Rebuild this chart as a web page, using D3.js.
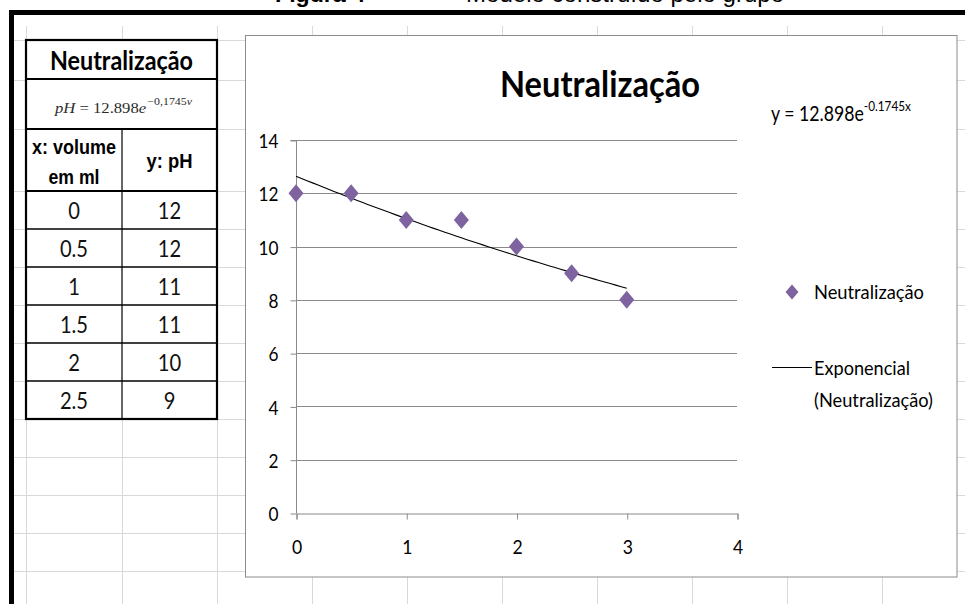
<!DOCTYPE html>
<html>
<head>
<meta charset="utf-8">
<script src="https://cdn.jsdelivr.net/npm/d3@7"></script>
<style>
  html, body { margin: 0; padding: 0; background: #fff; }
  svg { display: block; }
</style>
</head>
<body>
<svg id="sheet" width="965" height="604"></svg>
<script>
// ---- data -------------------------------------------------------------
const seriesName = "Neutralização";
const volume = [0, 0.5, 1, 1.5, 2, 2.5, 3];     // x: volume em ml
const ph     = [12, 12, 11, 11, 10, 9, 8];       // y: pH
const tableRows = 6;                              // rows visible in the sheet table
const xTicks = [0, 1, 2, 3, 4];
const yTicks = [0, 2, 4, 6, 8, 10, 12, 14];
const eqMain = "y = 12.898e";
const eqExp  = "-0.1745x";
const trendLabel = ["Exponencial", "(Neutralização)"];
const sheetColumns = [26, 122, 217, 312, 407, 502, 597, 692, 787, 882, 977];
const sheetRows = [40, 80, 129, 191, 229, 267, 305, 343, 381, 419, 457, 495, 533, 571, 609];

const svg = d3.select("#sheet");
const SANS = "Lato, 'Open Sans', sans-serif";
const ARIAL = "'Liberation Sans', Arial, sans-serif";
const SERIF = "'Liberation Serif', 'DejaVu Serif', serif";

// shrink a text element horizontally to a given width (Calibri-like narrow glyphs)
function fitWidth(sel, w) {
  sel.attr("textLength", w).attr("lengthAdjust", "spacingAndGlyphs");
}
function condense(sel, k) {
  sel.each(function () {
    const w = this.getComputedTextLength();
    d3.select(this).attr("textLength", w * k).attr("lengthAdjust", "spacingAndGlyphs");
  });
}

// ---- caption above the frame (mostly cut off) ---------------------------
const cap1 = svg.append("text").attr("x", 275).attr("y", 1.5)
  .attr("font-family", ARIAL).attr("font-weight", "bold").attr("font-size", 22)
  .text("Figura 4");
fitWidth(cap1, 90);
const cap2 = svg.append("text").attr("x", 446).attr("y", 1.5)
  .attr("font-family", ARIAL).attr("font-size", 24)
  .text("– Modelo construído pelo grupo");
fitWidth(cap2, 338);

// ---- spreadsheet grid --------------------------------------------------
const grid = svg.append("g").attr("stroke", "#d9d9d9").attr("stroke-width", 1);
grid.selectAll("line.v").data(sheetColumns).join("line")
  .attr("x1", d => d + 0.5).attr("x2", d => d + 0.5)
  .attr("y1", 26).attr("y2", 604);
grid.selectAll("line.h").data(sheetRows).join("line")
  .attr("x1", 14).attr("x2", 965)
  .attr("y1", d => d + 0.5).attr("y2", d => d + 0.5);

// thick black frame (top and left)
svg.append("rect").attr("x", 9).attr("y", 10).attr("width", 956).attr("height", 5).attr("fill", "#000");
svg.append("rect").attr("x", 9).attr("y", 10).attr("width", 5).attr("height", 594).attr("fill", "#000");

// ---- data table --------------------------------------------------------
const T = { x0: 26, x1: 122, x2: 217, yTop: 40, yTitle: 79, yFormula: 129, yHead: 191, rowH: 38 };
const table = svg.append("g");
const rows = volume.slice(0, tableRows).map((v, i) => ({ v, p: ph[i] }));
const tableBottom = T.yHead + rows.length * T.rowH;

table.append("rect").attr("x", T.x0).attr("y", T.yTop)
  .attr("width", T.x2 - T.x0).attr("height", tableBottom - T.yTop).attr("fill", "#fff");

const tl = table.append("g").attr("stroke", "#000");
// column divider below the formula row
tl.append("line").attr("x1", T.x1).attr("x2", T.x1).attr("y1", T.yFormula).attr("y2", tableBottom).attr("stroke-width", 1.2);
// header separators
[T.yTitle, T.yFormula, T.yHead].forEach(y =>
  tl.append("line").attr("x1", T.x0).attr("x2", T.x2).attr("y1", y).attr("y2", y).attr("stroke-width", 2));
rows.forEach((r, i) => {
  if (i === 0) return;
  const y = T.yHead + i * T.rowH;
  tl.append("line").attr("x1", T.x0).attr("x2", T.x2).attr("y1", y).attr("y2", y).attr("stroke-width", 1.6);
});
tl.append("rect").attr("x", T.x0).attr("y", T.yTop)
  .attr("width", T.x2 - T.x0).attr("height", tableBottom - T.yTop)
  .attr("fill", "none").attr("stroke-width", 2.2);

// table title
const tt = table.append("text").attr("x", (T.x0 + T.x2) / 2).attr("y", 69.5)
  .attr("text-anchor", "middle").attr("font-family", SANS).attr("font-weight", "bold")
  .attr("font-size", 26).text(seriesName);
fitWidth(tt, 143);

// formula row: pH = 12.898 e^(−0,1745 v)
const fm = table.append("text").attr("x", 55).attr("y", 113)
  .attr("font-family", SERIF).attr("font-size", 14).attr("fill", "#2b2b2b");
fm.append("tspan").attr("font-style", "italic").text("pH");
fm.append("tspan").text(" = 12.898");
fm.append("tspan").attr("font-style", "italic").text("e");
fm.append("tspan").attr("font-size", 10).attr("dy", -8).attr("dx", 1).text("−0,1745");
fm.append("tspan").attr("font-size", 10).attr("font-style", "italic").text("v");
fitWidth(fm, 137);

// column headers
const hx = table.append("g").attr("font-family", ARIAL).attr("font-weight", "bold")
  .attr("font-size", 21).attr("text-anchor", "middle");
const h1 = hx.append("text").attr("x", (T.x0 + T.x1) / 2).attr("y", 154).text("x: volume");
fitWidth(h1, 84);
const h2 = hx.append("text").attr("x", (T.x0 + T.x1) / 2).attr("y", 184).text("em ml");
fitWidth(h2, 51);
const h3 = hx.append("text").attr("x", (T.x1 + T.x2) / 2).attr("y", 168).text("y: pH");
fitWidth(h3, 46);

// body cells
const cells = table.append("g").attr("font-family", SANS).attr("font-size", 24)
  .attr("text-anchor", "middle").attr("fill", "#111");
rows.forEach((r, i) => {
  const base = T.yHead + (i + 1) * T.rowH - 10;
  const a = cells.append("text").attr("x", (T.x0 + T.x1) / 2).attr("y", base).text(String(r.v));
  const b = cells.append("text").attr("x", (T.x1 + T.x2) / 2).attr("y", base).text(String(r.p));
  condense(a, 0.84);
  condense(b, 0.84);
});

// ---- chart -------------------------------------------------------------
const box = { x: 245.5, y: 35.5, w: 711.5, h: 541.5 };
svg.append("rect").attr("x", box.x).attr("y", box.y).attr("width", box.w).attr("height", box.h)
  .attr("fill", "#fff").attr("stroke", "#8c8c8c").attr("stroke-width", 1);

const x = d3.scaleLinear().domain([0, 4]).range([296, 737]);
const y = d3.scaleLinear().domain([0, 14]).range([513, 140]);

// title
const title = svg.append("text").attr("x", 600).attr("y", 97).attr("text-anchor", "middle")
  .attr("font-family", SANS).attr("font-weight", "bold").attr("font-size", 37)
  .attr("fill", "#000").text(seriesName);
fitWidth(title, 200);

// horizontal gridlines
svg.append("g").selectAll("line").data(yTicks.filter(d => d > 0)).join("line")
  .attr("x1", x(0)).attr("x2", x(4))
  .attr("y1", d => Math.round(y(d)) + 0.5).attr("y2", d => Math.round(y(d)) + 0.5)
  .attr("stroke", "#8a8a8a").attr("stroke-width", 1);

// axes
const yAxis = svg.append("g").attr("transform", `translate(${x(0) + 0.5},0.5)`)
  .call(d3.axisLeft(y).tickValues(yTicks).tickSize(6).tickPadding(12).tickFormat(d3.format("d")));
const xAxis = svg.append("g").attr("transform", `translate(0.5,${y(0) + 0.5})`)
  .call(d3.axisBottom(x).tickValues(xTicks).tickSize(6).tickPadding(20).tickFormat(d3.format("d")));
[yAxis, xAxis].forEach(ax => {
  ax.select(".domain").attr("stroke", "#8a8a8a");
  ax.selectAll(".tick line").attr("stroke", "#8a8a8a");
  ax.selectAll(".tick text").attr("font-family", SANS).attr("font-size", 20).attr("fill", "#000");
});
yAxis.select(".domain").attr("d", `M-6,${y(14)}H0V${y(0)}`);
yAxis.selectAll(".tick text").attr("x", -18).attr("dy", "0.36em");
xAxis.selectAll(".tick text").attr("dy", "0.7em");
yAxis.selectAll(".tick text").call(condense, 0.86);
xAxis.selectAll(".tick text").call(condense, 0.88);

// exponential least-squares trendline fitted to the series
const lx = d3.mean(volume), ly = d3.mean(ph, p => Math.log(p));
const b = d3.sum(volume, (v, i) => (v - lx) * (Math.log(ph[i]) - ly)) / d3.sum(volume, v => (v - lx) ** 2);
const a = Math.exp(ly - b * lx);
const trendX = d3.range(0, 3.0001, 0.05);
svg.append("path")
  .attr("d", d3.line().x(v => x(v)).y(v => y(a * Math.exp(b * v)))(trendX))
  .attr("fill", "none").attr("stroke", "#000").attr("stroke-width", 1.1);

// diamond markers
const diamond = (hw, hh) => ({
  draw(ctx) { ctx.moveTo(0, -hh); ctx.lineTo(hw, 0); ctx.lineTo(0, hh); ctx.lineTo(-hw, 0); ctx.closePath(); }
});
svg.append("g").selectAll("path").data(volume.map((v, i) => [v, ph[i]])).join("path")
  .attr("transform", d => `translate(${x(d[0])},${y(d[1])})`)
  .attr("d", d3.symbol().type(diamond(7.5, 9))())
  .attr("fill", "#7f63a1");

// trendline equation (exponent as a raised tspan)
const eq = svg.append("text").attr("x", 771).attr("y", 121).attr("font-family", SANS)
  .attr("font-size", 21).attr("fill", "#000");
eq.append("tspan").text(eqMain);
eq.append("tspan").attr("font-size", 14).attr("dy", -10).text(eqExp);
fitWidth(eq, 140);

// legend
const lg = svg.append("g").attr("font-family", SANS).attr("font-size", 20).attr("fill", "#000");
lg.append("path").attr("transform", "translate(792,292)")
  .attr("d", d3.symbol().type(diamond(6.5, 7.5))()).attr("fill", "#7f63a1");
const l1 = lg.append("text").attr("x", 814).attr("y", 299).text(seriesName);
fitWidth(l1, 110);
lg.append("line").attr("x1", 772).attr("x2", 812).attr("y1", 367.5).attr("y2", 367.5)
  .attr("stroke", "#000").attr("stroke-width", 1.2);
const l2 = lg.append("text").attr("x", 814).attr("y", 375).text(trendLabel[0]);
fitWidth(l2, 96);
const l3 = lg.append("text").attr("x", 814).attr("y", 407).text(trendLabel[1]);
fitWidth(l3, 119);
</script>
</body>
</html>
